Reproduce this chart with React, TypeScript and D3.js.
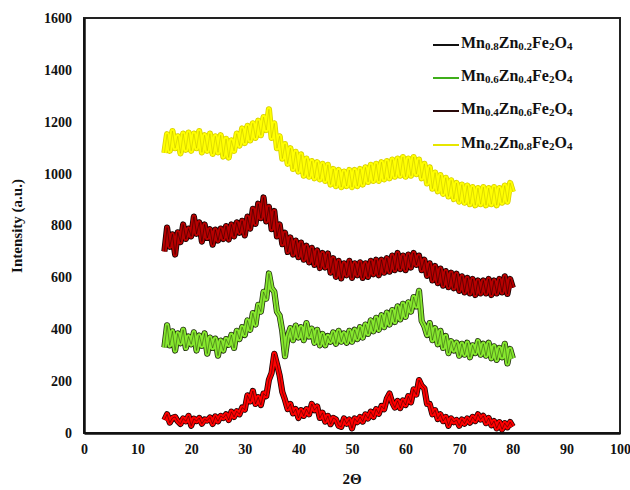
import React, { useEffect, useRef } from "react";
import * as d3 from "d3";

// 2-theta positions (deg), 0.5 deg step from 15 to 80
const twoTheta = d3.range(15, 80.001, 0.5);

// intensities, 10 values per 5 deg
const mn08 = [
  50, 72, 40, 58, 62, 45, 35, 56, 45, 66,
  28, 55, 46, 58, 36, 52, 48, 60, 35, 64,
  45, 66, 58, 72, 50, 82, 62, 84, 72, 98,
  90, 145, 122, 162, 112, 138, 108, 152, 142, 205,
  232, 305, 265, 222, 158, 128, 92, 112, 76, 92,
  58, 88, 66, 92, 72, 112, 88, 102, 58, 78,
  44, 66, 34, 58, 52, 28, 24, 56, 36, 52,
  18, 56, 42, 62, 44, 72, 56, 82, 62, 92,
  74, 104, 92, 132, 152, 118, 98, 124, 96, 126,
  108, 142, 118, 168, 148, 204, 182, 172, 112, 112,
  72, 88, 54, 72, 46, 62, 28, 56, 42, 50,
  28, 52, 36, 56, 40, 62, 46, 72, 52, 66,
  38, 58, 30, 46, 18, 42, 14, 38, 22, 42,
  25,
];
const mn06 = [
  330, 415, 338, 392, 318, 384, 346, 398, 328, 372,
  342, 388, 318, 376, 336, 384, 306, 368, 328, 364,
  298, 356, 318, 362, 340, 378, 328, 394, 362, 408,
  378, 434, 398, 462, 418, 494, 468, 544, 518, 615,
  558, 545, 468, 452, 392, 296, 372, 404, 358, 414,
  368, 408, 358, 424, 372, 402, 348, 398, 338, 382,
  338, 374, 352, 388, 344, 394, 352, 384, 348, 394,
  352, 398, 362, 408, 368, 418, 382, 434, 392, 444,
  398, 454, 408, 464, 418, 474, 428, 488, 438, 498,
  448, 504, 468, 524, 488, 548, 432, 412, 378, 424,
  358, 404, 342, 394, 328, 374, 308, 354, 318, 348,
  298, 344, 302, 348, 292, 338, 308, 354, 302, 344,
  298, 348, 288, 334, 282, 328, 292, 344, 268, 324,
  288,
];
const mn04 = [
  700, 792, 718, 766, 688, 774, 736, 804, 748, 788,
  758, 834, 768, 812, 738, 804, 752, 786, 726, 784,
  742, 788, 748, 798, 746, 804, 758, 812, 772, 818,
  762, 834, 788, 864, 806, 884, 828, 908, 816, 872,
  786, 856, 758, 804, 728, 772, 698, 754, 688, 742,
  678, 734, 668, 722, 658, 714, 648, 704, 636, 694,
  638, 692, 618, 674, 602, 664, 596, 654, 608, 664,
  598, 654, 608, 658, 598, 654, 602, 664, 612, 668,
  608, 668, 618, 674, 622, 684, 628, 694, 632, 684,
  628, 688, 638, 694, 648, 684, 628, 668, 606, 654,
  588, 644, 578, 634, 568, 624, 562, 618, 558, 614,
  548, 604, 542, 598, 538, 594, 532, 588, 538, 588,
  538, 594, 532, 588, 538, 594, 542, 604, 536, 594,
  560,
];
const mn02 = [
  1080, 1152, 1088, 1164, 1098, 1144, 1078, 1154, 1092, 1158,
  1088, 1154, 1098, 1164, 1082, 1148, 1088, 1154, 1076, 1144,
  1082, 1148, 1066, 1134, 1062, 1128, 1088, 1154, 1108, 1174,
  1118, 1184, 1128, 1194, 1138, 1204, 1148, 1218, 1168, 1248,
  1138, 1194, 1098, 1144, 1058, 1114, 1038, 1098, 1018, 1084,
  1008, 1074, 992, 1058, 988, 1048, 982, 1044, 978, 1038,
  972, 1034, 958, 1018, 952, 1014, 948, 1008, 952, 1014,
  948, 1014, 952, 1018, 958, 1024, 968, 1034, 972, 1038,
  972, 1044, 978, 1048, 982, 1054, 988, 1058, 992, 1064,
  988, 1058, 992, 1064, 998, 1054, 982, 1038, 962, 1024,
  942, 1004, 932, 994, 922, 984, 912, 974, 902, 964,
  892, 958, 888, 954, 882, 948, 878, 944, 882, 948,
  878, 944, 882, 948, 878, 944, 888, 954, 892, 964,
  930,
];

const xTicks = [0, 10, 20, 30, 40, 50, 60, 70, 80, 90, 100];
const yTicks = [0, 200, 400, 600, 800, 1000, 1200, 1400, 1600];

// legend name parts: [text, isSubscript]
const series = [
  { name: [["Mn", false], ["0.8", true], ["Zn", false], ["0.2", true], ["Fe", false], ["2", true], ["O", false], ["4", true]], values: mn08, color: "#ff0000", edge: "#1a0000", streak: "#000", legend: "#111" },
  { name: [["Mn", false], ["0.6", true], ["Zn", false], ["0.4", true], ["Fe", false], ["2", true], ["O", false], ["4", true]], values: mn06, color: "#86e82e", edge: "#223010", streak: "#1c2a0c", legend: "#3fae1a" },
  { name: [["Mn", false], ["0.4", true], ["Zn", false], ["0.6", true], ["Fe", false], ["2", true], ["O", false], ["4", true]], values: mn04, color: "#b80000", edge: "#120000", streak: "#000", legend: "#2a0a0a" },
  { name: [["Mn", false], ["0.2", true], ["Zn", false], ["0.8", true], ["Fe", false], ["2", true], ["O", false], ["4", true]], values: mn02, color: "#ffff00", edge: "#d8d000", streak: "#b8b000", legend: "#e6e600" },
];

export default function App() {
  const ref = useRef<SVGSVGElement>(null);

  useEffect(() => {
    const svg = d3.select(ref.current);
    svg.selectAll("*").remove();

    const left = 84, top = 18, right = 620, bottom = 433;
    const x = d3.scaleLinear().domain([0, 100]).range([left, right]);
    const y = d3.scaleLinear().domain([0, 1600]).range([bottom, top]);
    const font = "'Liberation Serif', 'Times New Roman', serif";

    // frame
    svg.append("rect")
      .attr("x", left).attr("y", top)
      .attr("width", right - left).attr("height", bottom - top)
      .attr("fill", "none").attr("stroke", "#222").attr("stroke-width", 2);

    // axes, no tick marks
    const yAxis = svg.append("g")
      .attr("transform", `translate(${left},0)`)
      .call(d3.axisLeft(y).tickValues(yTicks).tickFormat(d3.format("d")).tickSize(0).tickPadding(12));
    const xAxis = svg.append("g")
      .attr("transform", `translate(0,${bottom})`)
      .call(d3.axisBottom(x).tickValues(xTicks).tickFormat(d3.format("d")).tickSize(0).tickPadding(11));
    [yAxis, xAxis].forEach(g => {
      g.select(".domain").attr("stroke", "#111").attr("stroke-width", 2.5);
      g.selectAll("text")
        .attr("font-family", font).attr("font-weight", "bold")
        .attr("font-size", 14).attr("fill", "#111");
    });

    // the curves: dark edge, coloured band, thin dark streaks of the raw zigzag
    const line = d3.line<number>()
      .x((d, i) => x(twoTheta[i]))
      .y(d => y(d));
    series.forEach(s => {
      svg.append("path")
        .datum(s.values)
        .attr("d", line)
        .attr("fill", "none")
        .attr("stroke", s.edge)
        .attr("stroke-width", 6.2)
        .attr("stroke-linejoin", "round");
      svg.append("path")
        .datum(s.values)
        .attr("d", line)
        .attr("fill", "none")
        .attr("stroke", s.color)
        .attr("stroke-width", 4.6)
        .attr("stroke-linejoin", "round");
      svg.append("path")
        .datum(s.values)
        .attr("d", line)
        .attr("fill", "none")
        .attr("stroke", s.streak)
        .attr("stroke-opacity", 0.55)
        .attr("stroke-width", 0.8);
    });

    // legend
    const legendY = [45, 78, 111, 145];
    series.forEach((s, i) => {
      const g = svg.append("g").attr("transform", `translate(0,${legendY[i]})`);
      g.append("line")
        .attr("x1", 433).attr("x2", 459).attr("y1", 0).attr("y2", 0)
        .attr("stroke", s.legend).attr("stroke-width", 2);
      const t = g.append("text")
        .attr("x", 461).attr("y", 5)
        .attr("font-family", font).attr("font-weight", "bold")
        .attr("font-size", 16).attr("fill", "#111");
      s.name.forEach(([part, sub]) => {
        t.append("tspan")
          .attr("font-size", sub ? 11 : 16)
          .attr("dy", sub ? 2 : -2)
          .text(part as string);
      });
    });

    // axis titles
    svg.append("text")
      .attr("x", 352).attr("y", 484)
      .attr("text-anchor", "middle")
      .attr("font-family", font).attr("font-weight", "bold")
      .attr("font-size", 15).attr("fill", "#111")
      .text("2Θ");
    svg.append("text")
      .attr("transform", "translate(22,226) rotate(-90)")
      .attr("text-anchor", "middle")
      .attr("font-family", font).attr("font-weight", "bold")
      .attr("font-size", 15).attr("fill", "#111")
      .text("Intensity (a.u.)");
  }, []);

  return (
    <svg ref={ref} width={630} height={490}
      style={{ position: "absolute", left: 0, top: 0, background: "#fff" }} />
  );
}
